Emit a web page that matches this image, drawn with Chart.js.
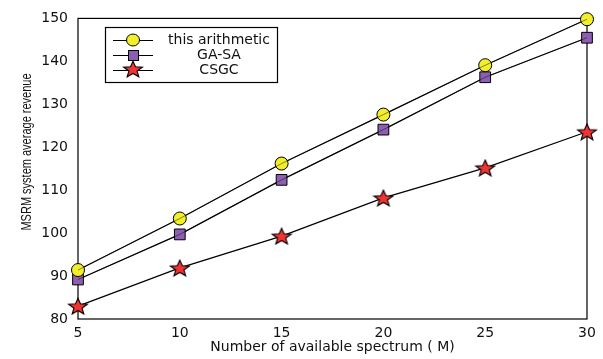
<!DOCTYPE html>
<html>
<head>
<meta charset="utf-8">
<script src="https://cdn.jsdelivr.net/npm/chart.js@4/dist/chart.umd.min.js"></script>
<style>
html,body{margin:0;padding:0;background:#fff;}
#wrap{width:603px;height:359px;position:relative;}
</style>
</head>
<body>
<div id="wrap"><canvas id="c" width="603" height="359"></canvas></div>
<script>
const spectrum = [5, 10, 15, 20, 25, 30];
const thisArithmetic = [91.4, 103.4, 116.2, 127.6, 139.1, 149.8];
const gaSa = [89.2, 99.7, 112.4, 124.1, 136.3, 145.5];
const csgc = [83.0, 91.9, 99.3, 108.2, 115.2, 123.6];
const seriesNames = ['this arithmetic', 'GA-SA', 'CSGC'];
const yTicks = [80, 90, 100, 110, 120, 130, 140, 150];
const xTicks = [5, 10, 15, 20, 25, 30];
const xTitle = 'Number of available spectrum ( M)';
const yTitle = 'MSRM system average revenue';

const YELLOW = '#f2ee2a';
const PURPLE = '#8c5fb2';
const RED = '#f03434';

function starPath(ctx, cx, cy, R, r, sx) {
  ctx.beginPath();
  for (let i = 0; i < 10; i++) {
    const rad = (i % 2 === 0) ? R : r;
    const a = -Math.PI / 2 + i * Math.PI / 5;
    const px = cx + sx * rad * Math.cos(a), py = cy + rad * Math.sin(a);
    if (i === 0) ctx.moveTo(px, py); else ctx.lineTo(px, py);
  }
  ctx.closePath();
}
function makeStar() {
  const s = document.createElement('canvas');
  s.width = 22; s.height = 18;
  const c = s.getContext('2d');
  starPath(c, 11, 9.8, 8.6, 3.7, 1.15);
  c.fillStyle = RED; c.fill();
  c.lineWidth = 1.1; c.strokeStyle = '#000'; c.stroke();
  return s;
}
const starImg = makeStar();

function toPts(arr) { return spectrum.map((x, i) => ({x: x, y: arr[i]})); }

const frameUnder = {
  id: 'frameUnder',
  beforeDatasetsDraw(chart) {
    const {ctx, chartArea: a} = chart;
    ctx.save();
    ctx.strokeStyle = '#000';
    ctx.lineWidth = 1.2;
    ctx.strokeRect(a.left, a.top, a.right - a.left, a.bottom - a.top);
    ctx.restore();
  }
};

const overLines = {
  id: 'overLines',
  afterDatasetsDraw(chart) {
    const ctx = chart.ctx;
    ctx.save();
    ctx.strokeStyle = 'rgba(0,0,0,0.45)';
    ctx.lineWidth = 1;
    [0, 1].forEach(di => {
      const pts = chart.getDatasetMeta(di).data;
      ctx.beginPath();
      pts.forEach((p, i) => { if (i === 0) ctx.moveTo(p.x, p.y); else ctx.lineTo(p.x, p.y); });
      ctx.stroke();
    });
    ctx.restore();
  }
};

const yTitlePlugin = {
  id: 'yTitle',
  afterDraw(chart) {
    const ctx = chart.ctx;
    ctx.save();
    ctx.translate(27, 152);
    ctx.scale(1.3, 1);
    ctx.rotate(-Math.PI / 2);
    ctx.fillStyle = '#111';
    ctx.font = '11px "Liberation Sans"';
    ctx.textAlign = 'center';
    ctx.textBaseline = 'middle';
    ctx.fillText(yTitle, 0, 0);
    ctx.restore();
  }
};

const legendPlugin = {
  id: 'customLegend',
  afterDraw(chart) {
    const ctx = chart.ctx;
    ctx.save();
    ctx.fillStyle = '#fff';
    ctx.fillRect(105, 27, 172, 55);
    ctx.strokeStyle = '#000';
    ctx.lineWidth = 1.2;
    ctx.strokeRect(105.5, 27.5, 172, 55);
    const rows = [40, 55, 70];
    rows.forEach((y, i) => {
      ctx.strokeStyle = '#000';
      ctx.lineWidth = 1;
      ctx.beginPath(); ctx.moveTo(113, y + 0.5); ctx.lineTo(153, y + 0.5); ctx.stroke();
      if (i === 0) {
        ctx.beginPath(); ctx.ellipse(133, y, 6.5, 6, 0, 0, Math.PI * 2);
        ctx.fillStyle = YELLOW; ctx.fill(); ctx.stroke();
      } else if (i === 1) {
        ctx.fillStyle = PURPLE; ctx.fillRect(128, y - 5, 11, 10);
        ctx.strokeRect(128.5, y - 4.5, 10, 10);
      } else {
        ctx.drawImage(starImg, 133 - 11, y - 10);
      }
      ctx.fillStyle = '#111';
      ctx.font = '14px "DejaVu Sans"';
      ctx.textAlign = 'center';
      ctx.textBaseline = 'middle';
      ctx.fillText(seriesNames[i], 219, y);
    });
    ctx.restore();
  }
};

new Chart(document.getElementById('c'), {
  type: 'line',
  data: {
    datasets: [
      {label: seriesNames[0], data: toPts(thisArithmetic), borderColor: '#000', borderWidth: 1.2,
       pointStyle: 'circle', pointRadius: 6.5, pointBackgroundColor: YELLOW, pointBorderColor: '#000', pointBorderWidth: 1, clip: false},
      {label: seriesNames[1], data: toPts(gaSa), borderColor: '#000', borderWidth: 1.2,
       pointStyle: 'rect', pointRadius: 7.6, pointBackgroundColor: PURPLE, pointBorderColor: '#000', pointBorderWidth: 1, clip: false},
      {label: seriesNames[2], data: toPts(csgc), borderColor: '#000', borderWidth: 1.2,
       pointStyle: starImg, pointRadius: 9, pointBackgroundColor: RED, pointBorderColor: '#000', clip: false}
    ]
  },
  options: {
    responsive: false,
    animation: false,
    layout: {padding: {left: 0, right: 16, top: 15, bottom: 0}},
    plugins: {legend: {display: false}, tooltip: {enabled: false}},
    elements: {line: {tension: 0}},
    scales: {
      x: {
        type: 'linear', min: 5, max: 30,
        afterBuildTicks(axis) { axis.ticks = xTicks.map(v => ({value: v})); },
        afterFit(axis) { axis.height = 40; },
        grid: {display: false, drawTicks: false},
        border: {display: false},
        ticks: {padding: 6, color: '#111', font: {family: 'DejaVu Sans', size: 14}, maxRotation: 0},
        title: {display: true, text: xTitle, color: '#111',
                font: {family: 'DejaVu Sans', size: 14}, padding: {top: 0, bottom: 3}}
      },
      y: {
        type: 'linear', min: 80, max: 150,
        afterBuildTicks(axis) { axis.ticks = yTicks.map(v => ({value: v})); },
        afterFit(axis) { axis.width = 78; },
        grid: {display: false, drawTicks: false},
        border: {display: false},
        ticks: {padding: 10, color: '#111', font: {family: 'DejaVu Sans', size: 14}},
        title: {display: false}
      }
    }
  },
  plugins: [frameUnder, overLines, yTitlePlugin, legendPlugin]
});
</script>
</body>
</html>
